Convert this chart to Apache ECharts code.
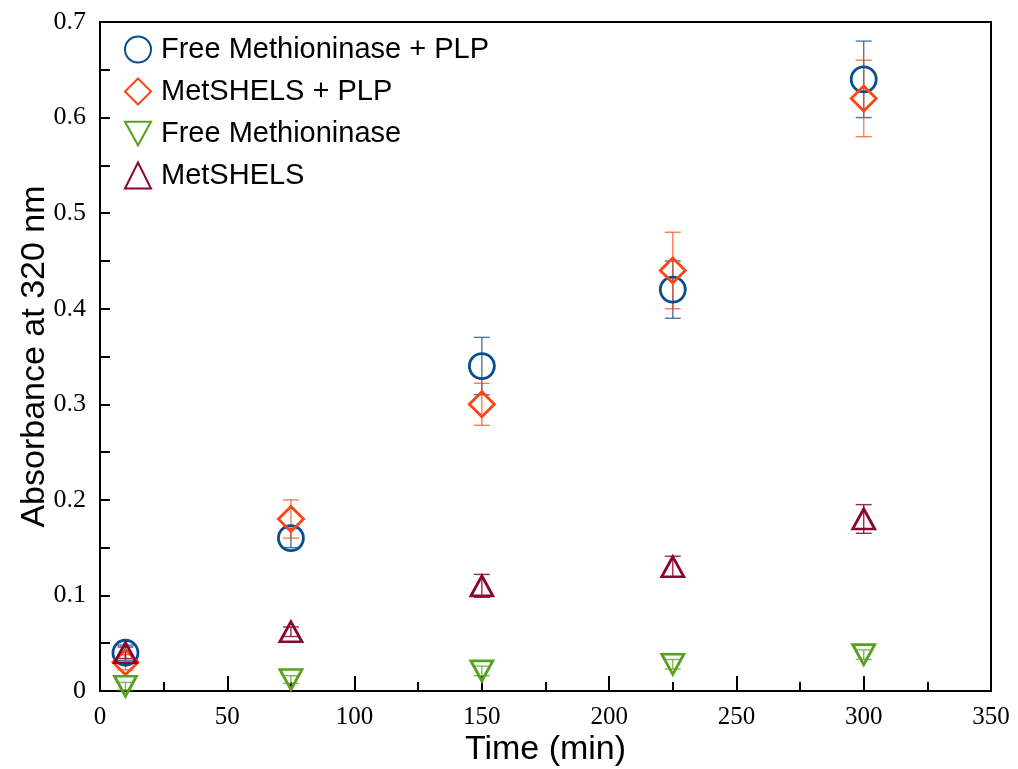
<!DOCTYPE html>
<html>
<head>
<meta charset="utf-8">
<script src="https://cdn.jsdelivr.net/npm/echarts@6/dist/echarts.min.js"></script>
<style>
  html, body { margin: 0; padding: 0; background: #fff; }
  #chart { width: 1018px; height: 769px; }
</style>
</head>
<body>
<div id="chart"></div>
<script>
// Time points (min)
const times = [10, 75, 150, 225, 300];

// Absorbance values and errors
const freePlp = [0.04, 0.16, 0.34, 0.42, 0.64];
const freePlpErr = [0.008, 0.01, 0.03, 0.03, 0.04];

const shelsPlp = [0.03, 0.18, 0.30, 0.44, 0.62];
const shelsPlpErr = [0.008, 0.02, 0.022, 0.04, 0.04];

const free = [0.005, 0.012, 0.021, 0.028, 0.038];
const freeErr = [0.004, 0.004, 0.005, 0.005, 0.005];

const shels = [0.04, 0.062, 0.11, 0.13, 0.18];
const shelsErr = [0.006, 0.005, 0.012, 0.011, 0.015];

const names = ['Free Methioninase + PLP', 'MetSHELS + PLP', 'Free Methioninase', 'MetSHELS'];
const colors = ['#0a4d8c', '#ff4414', '#58a024', '#8a0530'];
const barColors = ['rgba(10,77,140,0.75)', 'rgba(255,68,20,0.7)', 'rgba(88,160,36,0.75)', 'rgba(138,5,48,0.85)'];

// upside-down triangle (legend icons do not follow symbolRotate)
const downTriangle = 'path://M0,0 L22,0 L11,20 Z';

const chart = echarts.init(document.getElementById('chart'));

function points(vals) {
  return times.map((t, i) => [t, vals[i]]);
}

function errData(vals, errs) {
  return times.map((t, i) => [t, vals[i] - errs[i], vals[i] + errs[i]]);
}

function errorSeries(vals, errs, color) {
  return {
    type: 'custom',
    silent: true,
    z: 1,
    data: errData(vals, errs),
    renderItem: function (params, api) {
      const lo = api.coord([api.value(0), api.value(1)]);
      const hi = api.coord([api.value(0), api.value(2)]);
      const w = 8;
      const style = { stroke: color, lineWidth: 1.4 };
      return {
        type: 'group',
        children: [
          { type: 'line', shape: { x1: lo[0], y1: lo[1], x2: hi[0], y2: hi[1] }, style: style },
          { type: 'line', shape: { x1: lo[0] - w, y1: lo[1], x2: lo[0] + w, y2: lo[1] }, style: style },
          { type: 'line', shape: { x1: hi[0] - w, y1: hi[1], x2: hi[0] + w, y2: hi[1] }, style: style }
        ]
      };
    }
  };
}

function markerSeries(name, vals, color, symbol, size) {
  return {
    name: name,
    type: 'scatter',
    z: 3,
    symbol: symbol,
    symbolSize: size,
    data: points(vals),
    itemStyle: { color: 'rgba(255,255,255,0)', borderColor: color, borderWidth: 2.8, opacity: 1 }
  };
}

const option = {
  animation: false,
  backgroundColor: '#fff',
  grid: {
    left: 100, right: 27, top: 22, bottom: 78,
    outerBoundsMode: 'none',
    show: true, borderColor: '#000', borderWidth: 2
  },
  legend: {
    orient: 'vertical',
    left: 119,
    top: 30,
    itemWidth: 26,
    itemHeight: 26,
    itemGap: 13,
    data: names,
    textStyle: { fontFamily: 'Liberation Sans, Arial, sans-serif', fontSize: 29, color: '#000', padding: [0, 0, 0, 5] }
  },
  xAxis: {
    type: 'value',
    min: 0, max: 350, interval: 50,
    name: 'Time (min)',
    nameLocation: 'middle',
    nameGap: 42,
    nameMoveOverlap: false,
    nameTextStyle: { fontFamily: 'Liberation Sans, Arial, sans-serif', fontSize: 34, color: '#000' },
    axisLine: { show: true, lineStyle: { color: '#000', width: 2 } },
    axisTick: { show: true, inside: true, length: 15, lineStyle: { color: '#000', width: 2 } },
    minorTick: { show: true, splitNumber: 2, length: 9, lineStyle: { color: '#000', width: 2 } },
    axisLabel: { margin: 14, fontFamily: 'Liberation Serif, Times New Roman, serif', fontSize: 25, color: '#000' },
    splitLine: { show: false }
  },
  yAxis: {
    type: 'value',
    min: 0, max: 0.7, interval: 0.1,
    name: 'Absorbance at 320 nm',
    nameLocation: 'middle',
    nameGap: 48,
    nameMoveOverlap: false,
    nameTextStyle: { fontFamily: 'Liberation Sans, Arial, sans-serif', fontSize: 34, color: '#000' },
    axisLine: { show: true, lineStyle: { color: '#000', width: 2 } },
    axisTick: { show: true, inside: true, length: 10, lineStyle: { color: '#000', width: 2 } },
    minorTick: { show: true, splitNumber: 2, length: 10, lineStyle: { color: '#000', width: 2 } },
    axisLabel: { margin: 14, fontFamily: 'Liberation Serif, Times New Roman, serif', fontSize: 26, color: '#000' },
    splitLine: { show: false }
  },
  series: [
    errorSeries(freePlp, freePlpErr, barColors[0]),
    errorSeries(shelsPlp, shelsPlpErr, barColors[1]),
    errorSeries(free, freeErr, barColors[2]),
    errorSeries(shels, shelsErr, barColors[3]),
    markerSeries(names[0], freePlp, colors[0], 'circle', 25),
    markerSeries(names[1], shelsPlp, colors[1], 'diamond', 25),
    markerSeries(names[2], free, colors[2], downTriangle, [22, 20]),
    markerSeries(names[3], shels, colors[3], 'triangle', [22, 20])
  ]
};

chart.setOption(option);

window.addEventListener('resize', () => {
  chart.resize();
});
</script>
</body>
</html>
